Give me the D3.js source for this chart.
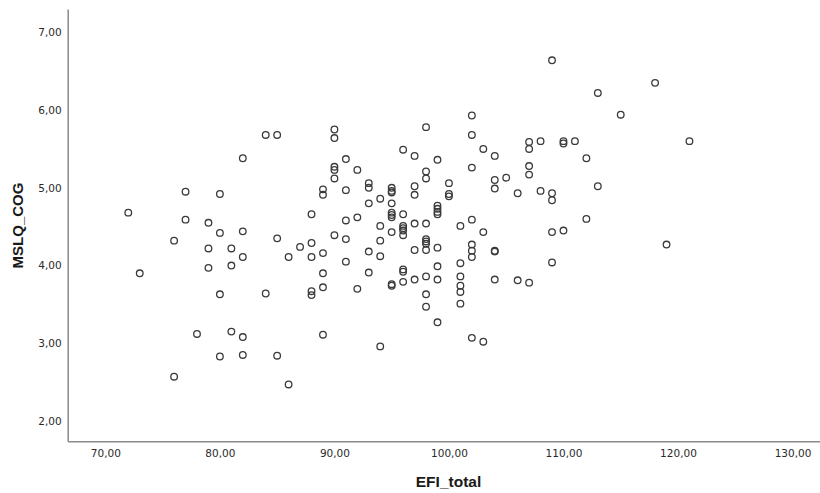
<!DOCTYPE html>
<html>
<head>
<meta charset="utf-8">
<script src="https://cdn.jsdelivr.net/npm/d3@7"></script>
<style>
  html, body { margin: 0; padding: 0; background: #fff; }
  svg { display: block; }
</style>
</head>
<body>
<svg id="chart" width="820" height="493"></svg>
<script>
// EFI_total (x) and MSLQ_COG (y) per participant
const efiTotal = [
  72, 73, 76, 76, 77, 77, 78, 79, 79, 79,
  80, 80, 80, 80, 81, 81, 81, 82, 82, 82, 82, 82,
  84, 84, 85, 85, 85, 86, 86, 87,
  88, 88, 88, 88, 88,
  89, 89, 89, 89, 89, 89,
  90, 90, 90, 90, 90, 90,
  91, 91, 91, 91, 91,
  92, 92, 92,
  93, 93, 93, 93, 93,
  94, 94, 94, 94, 94,
  95, 95, 95, 95, 95, 95, 95, 95, 95, 95,
  96, 96, 96, 96, 96, 96, 96, 96, 96,
  97, 97, 97, 97, 97, 97,
  98, 98, 98, 98, 98, 98, 98, 98, 98, 98, 98,
  99, 99, 99, 99, 99, 99, 99, 99, 99,
  100, 100, 100,
  101, 101, 101, 101, 101, 101,
  102, 102, 102, 102, 102, 102, 102, 102,
  103, 103, 103,
  104, 104, 104, 104, 104, 104,
  105, 106, 106,
  107, 107, 107, 107, 107,
  108, 108,
  109, 109, 109, 109, 109,
  110, 110, 110, 111, 112, 112, 113, 113,
  115, 118, 119, 121
];
const mslqCog = [
  4.68, 3.90, 4.32, 2.57, 4.95, 4.59, 3.12, 4.55, 4.22, 3.97,
  4.92, 4.42, 3.63, 2.83, 4.22, 4.00, 3.15, 5.38, 4.44, 4.11, 3.08, 2.85,
  5.68, 3.64, 5.68, 4.35, 2.84, 4.11, 2.47, 4.24,
  4.66, 4.29, 4.11, 3.67, 3.62,
  4.98, 4.91, 4.16, 3.90, 3.72, 3.11,
  5.75, 5.64, 5.27, 5.23, 5.12, 4.39,
  5.37, 4.97, 4.58, 4.34, 4.05,
  5.23, 4.62, 3.70,
  5.06, 5.00, 4.80, 4.18, 3.91,
  4.86, 4.51, 4.32, 4.12, 2.96,
  5.00, 4.96, 4.94, 4.80, 4.68, 4.65, 4.62, 4.43, 3.76, 3.74,
  5.49, 4.66, 4.51, 4.48, 4.45, 4.39, 3.95, 3.92, 3.79,
  5.41, 5.02, 4.91, 4.54, 4.20, 3.82,
  5.78, 5.21, 5.12, 4.54, 4.34, 4.31, 4.28, 4.20, 3.86, 3.63, 3.47,
  5.36, 4.77, 4.73, 4.69, 4.66, 4.23, 3.99, 3.82, 3.27,
  5.06, 4.92, 4.89,
  4.51, 4.03, 3.86, 3.74, 3.66, 3.51,
  5.93, 5.68, 5.26, 4.59, 4.27, 4.19, 4.11, 3.07,
  5.50, 4.43, 3.02,
  5.41, 5.10, 4.99, 4.19, 4.18, 3.82,
  5.13, 4.93, 3.81,
  5.59, 5.50, 5.28, 5.17, 3.78,
  5.60, 4.96,
  6.64, 4.93, 4.84, 4.43, 4.04,
  5.60, 5.57, 4.45, 5.60, 5.38, 4.60, 6.22, 5.02,
  5.94, 6.35, 4.27, 5.60
];
const xTicks = [70, 80, 90, 100, 110, 120, 130];
const yTicks = [2, 3, 4, 5, 6, 7];
const xTitle = "EFI_total";
const yTitle = "MSLQ_COG";

const points = efiTotal.map((v, i) => ({ x: v, y: mslqCog[i] }));

const svg = d3.select("#chart");
const plotLeft = 67.7, plotRight = 820, plotTop = 9, plotBottom = 441.3;

const x = d3.scaleLinear().domain([66.71, 132.4]).range([plotLeft, plotRight]);
const y = d3.scaleLinear().domain([1.739, 7.30]).range([plotBottom, plotTop]);

// decimal comma formatting, e.g. 70,00
const locale = d3.formatLocale({ decimal: ",", thousands: ".", grouping: [3], currency: ["", ""] });
const fmt = locale.format(".2f");

const tickFont = "'DejaVu Sans', 'Liberation Sans', sans-serif";

const xAxis = svg.append("g")
  .attr("transform", `translate(0,${plotBottom})`)
  .call(d3.axisBottom(x).tickValues(xTicks).tickFormat(fmt)
    .tickSizeInner(0).tickSizeOuter(0).tickPadding(8));

const yAxis = svg.append("g")
  .attr("transform", `translate(${plotLeft},0)`)
  .call(d3.axisLeft(y).tickValues(yTicks).tickFormat(fmt)
    .tickSizeInner(0).tickSizeOuter(0).tickPadding(6));

[xAxis, yAxis].forEach(g => {
  g.select(".domain").attr("stroke", "#8a8a8a").attr("stroke-width", 1.5);
  g.selectAll(".tick line").remove();
  g.selectAll(".tick text")
    .attr("fill", "#2a2a2a")
    .style("font-family", tickFont)
    .style("font-size", "10.5px");
});

// observations
svg.append("g")
  .selectAll("circle")
  .data(points)
  .join("circle")
  .attr("cx", d => x(d.x))
  .attr("cy", d => y(d.y))
  .attr("r", 3.3)
  .attr("fill", "none")
  .attr("stroke", "#3a3a3a")
  .attr("stroke-width", 1.3);

// axis titles
svg.append("text")
  .attr("x", 448.5)
  .attr("y", 487)
  .attr("text-anchor", "middle")
  .attr("fill", "#1a1a1a")
  .style("font-family", "'Liberation Sans', Arial, sans-serif")
  .style("font-weight", "bold")
  .style("font-size", "15.5px")
  .text(xTitle);

svg.append("text")
  .attr("transform", "translate(23,225.5) rotate(-90)")
  .attr("text-anchor", "middle")
  .attr("fill", "#1a1a1a")
  .style("font-family", "'Liberation Sans', Arial, sans-serif")
  .style("font-weight", "bold")
  .style("font-size", "15px")
  .text(yTitle);
</script>
</body>
</html>
